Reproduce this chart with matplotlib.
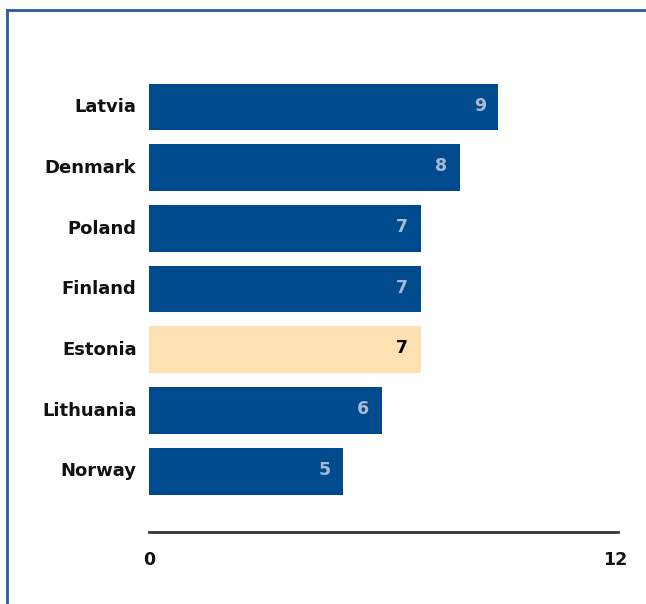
import matplotlib.pyplot as plt
from matplotlib.lines import Line2D

countries = ['Latvia', 'Denmark', 'Poland', 'Finland', 'Estonia', 'Lithuania', 'Norway']
values = [9, 8, 7, 7, 7, 6, 5]
highlight = 'Estonia'

dark_blue = '#004b8d'
light = '#fde1b1'

fig = plt.figure(figsize=(6.46, 6.04), dpi=100)
ax = fig.add_axes([149 / 646, 1 - 532 / 604, 466 / 646, (532 - 76.6) / 604])

n = len(countries)
ypos = list(range(n - 1, -1, -1))   # Latvia at top
colors = [light if c == highlight else dark_blue for c in countries]
ax.barh(ypos, values, height=0.77, color=colors)

# numbers inside the bars
for y, v, c in zip(ypos, values, countries):
    col = 'black' if c == highlight else '#a9b9d7'
    ax.annotate(str(v), (v, y), xytext=(-9, 1), textcoords='offset points',
                ha='right', va='center', fontsize=12.5, fontweight='bold', color=col)

ax.set_xlim(0, 12)
ax.set_ylim(-1.0, n - 0.5)
ax.set_xticks([0, 12])
ax.set_xticklabels(['0', '12'], fontweight='bold', color='#111111')
ax.set_yticks([y + 0.03 for y in ypos])   # labels sit a hair above bar centre
ax.set_yticklabels(countries, fontweight='bold', color='#111111')
ax.tick_params(axis='both', length=0)
ax.tick_params(axis='x', labelsize=12.5, pad=14)
ax.tick_params(axis='y', labelsize=13, pad=9)

for s in ['top', 'right', 'left']:
    ax.spines[s].set_visible(False)
ax.spines['bottom'].set_color('#333333')
ax.spines['bottom'].set_linewidth(2)
ax.spines['bottom'].set_bounds(0, 12.07)

# frame lines (top and left)
fig.add_artist(Line2D([6.5 / 646, 1.0], [1 - 9.5 / 604, 1 - 9.5 / 604],
                      transform=fig.transFigure, color='#2a5c9c', lw=2))
fig.add_artist(Line2D([6.5 / 646, 6.5 / 646], [0, 1 - 9.5 / 604],
                      transform=fig.transFigure, color='#2a5c9c', lw=2))

fig.savefig('out.png', dpi=100)
